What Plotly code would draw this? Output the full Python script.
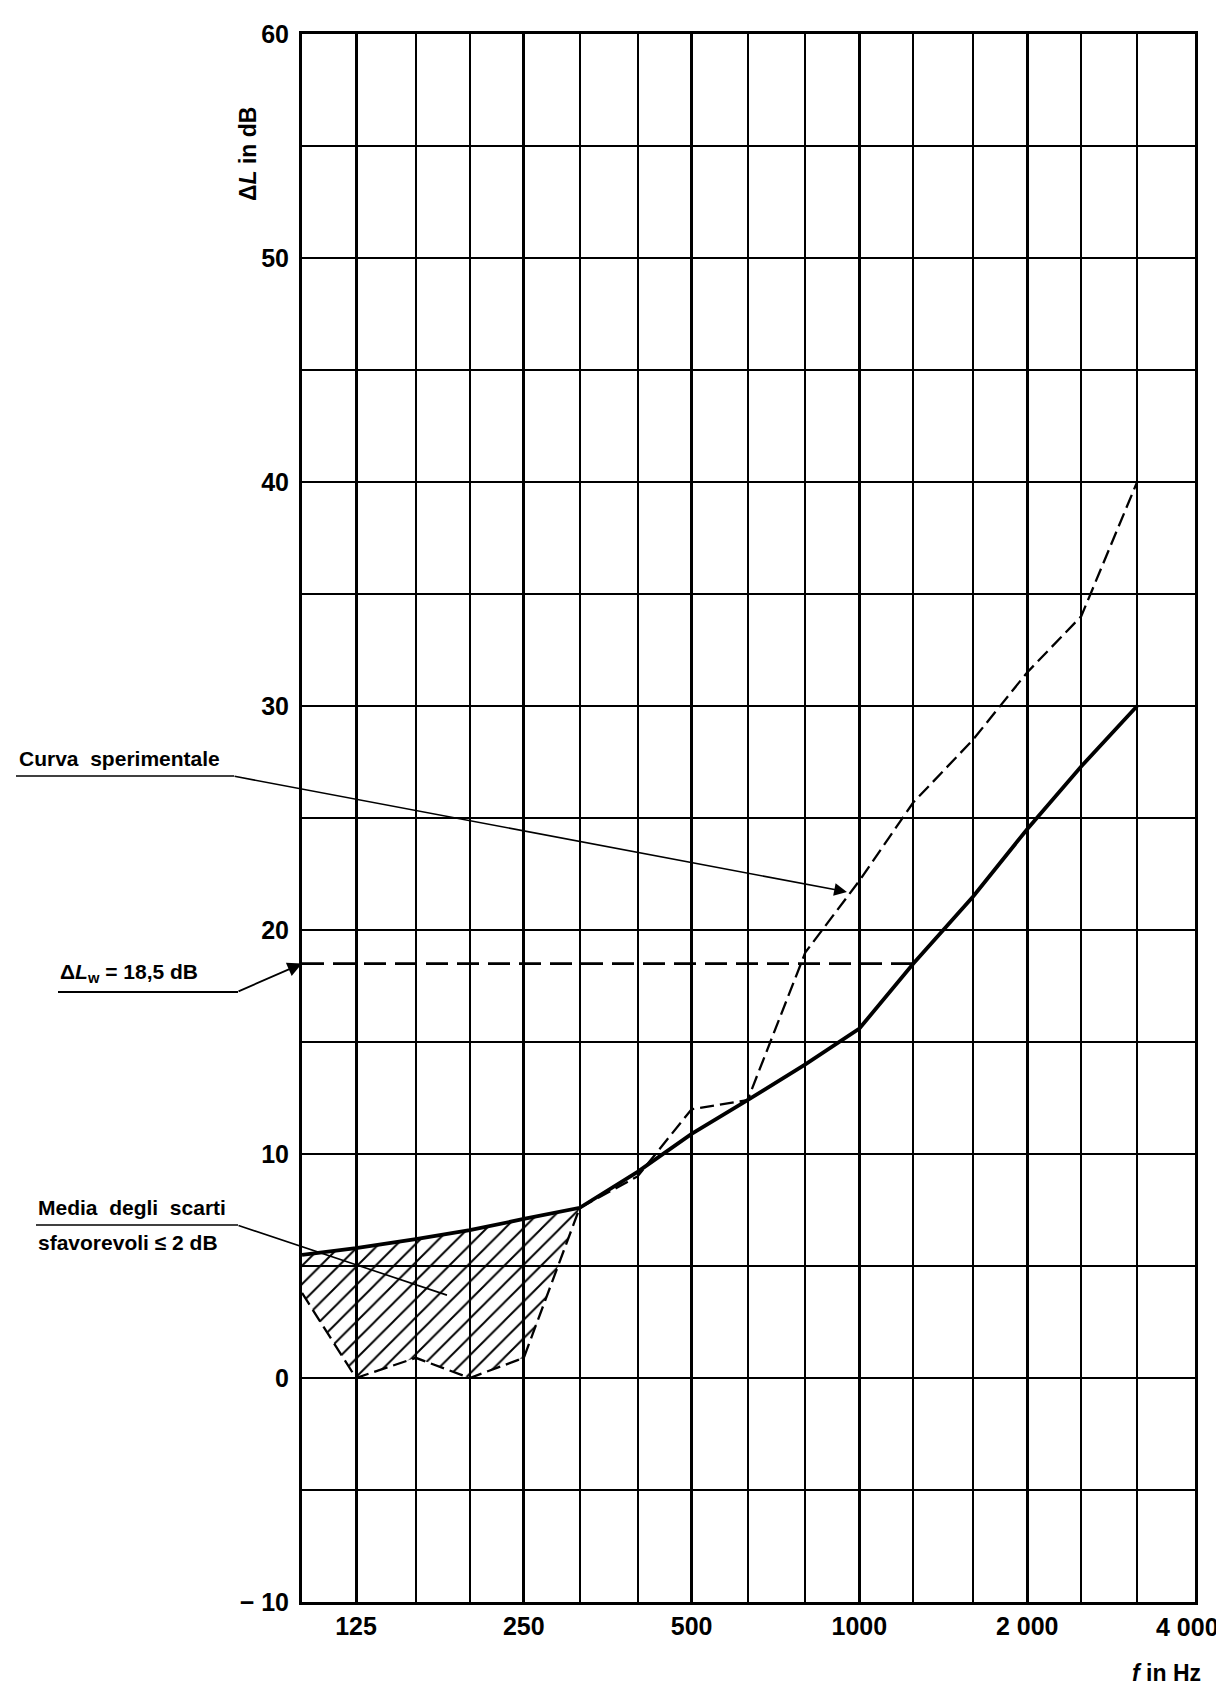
import math
import plotly.graph_objects as go

# ---------------- data ----------------
freqs = [100, 125, 160, 200, 250, 315, 400, 500, 630, 800, 1000, 1250, 1600, 2000, 2500, 3150]
reference_curve = [5.5, 5.8, 6.2, 6.6, 7.1, 7.6, 9.2, 10.9, 12.4, 14.0, 15.6, 18.5, 21.5, 24.5, 27.3, 30.0]
experimental_curve = [3.8, 0.0, 0.9, 0.0, 0.9, 7.6, 9.0, 12.0, 12.4, 19.0, 22.2, 25.7, 28.5, 31.5, 34.0, 40.0]
dLw_value = 18.5
dLw_freqs = [100, 1250]
hatch_n = 6  # hatched area between the curves from 100 to 315 Hz

grid_freqs = [100, 125, 160, 200, 250, 315, 400, 500, 630, 800, 1000, 1250, 1600, 2000, 2500, 3150, 4000]
x_tickvals = [125, 250, 500, 1000, 2000, 4000]
x_ticktext = ["125", "250", "500", "1000", "2 000", "4 000"]
y_tickvals = [-10, 0, 10, 20, 30, 40, 50, 60]
y_ticktext = ["\u2212 10", "0", "10", "20", "30", "40", "50", "60"]

# ---------------- layout geometry (page pixels) ----------------
W, H = 1224, 1690
OFF = 8  # default page body margin
L, R, T, B = 302, 1195, 34, 1602
PW, PH = R - L, B - T
FONT = "Liberation Sans, Arial, sans-serif"


def px(xpix):
    return (xpix - L) / PW


def py(ypix):
    return (B - ypix) / PH


def lx(xpix):  # log10 frequency at a page x pixel
    return 2 + px(xpix) * math.log10(40)


def vy(ypix):  # dB value at a page y pixel
    return -10 + py(ypix) * 70


fig = go.Figure()

# hatched region
hx = freqs[:hatch_n] + freqs[hatch_n - 1::-1]
hy = reference_curve[:hatch_n] + experimental_curve[hatch_n - 1::-1]
fig.add_trace(go.Scatter(
    x=hx, y=hy, mode="lines", fill="toself",
    line=dict(width=0, color="rgba(0,0,0,0)"),
    fillcolor="rgba(0,0,0,0)",
    fillpattern=dict(shape="/", fgcolor="black", bgcolor="rgba(0,0,0,0)",
                     size=13, solidity=0.15, fillmode="replace"),
    hoverinfo="skip", showlegend=False,
))

# weighted value line
fig.add_trace(go.Scatter(
    x=dLw_freqs, y=[dLw_value] * len(dLw_freqs), mode="lines",
    line=dict(color="black", width=2.8, dash="22px,9px"), showlegend=False,
))

# experimental curve
fig.add_trace(go.Scatter(
    x=freqs, y=experimental_curve, mode="lines",
    line=dict(color="black", width=2.3, dash="14px,6px"), showlegend=False,
))

# reference curve
fig.add_trace(go.Scatter(
    x=freqs, y=reference_curve, mode="lines",
    line=dict(color="black", width=3.8), showlegend=False,
))

tick_font = dict(family=FONT, size=25, color="black", weight="bold")
# the last label ("4 000") sits at the page edge; it is drawn as an annotation below
x_ticktext_axis = x_ticktext[:-1] + [""]
fig.update_xaxes(
    type="log", range=[math.log10(100), math.log10(4000) + 1e-4],
    tickmode="array", tickvals=x_tickvals, ticktext=x_ticktext_axis,
    showgrid=True, gridcolor="black", gridwidth=2.6,
    minor=dict(tickmode="array", tickvals=grid_freqs, showgrid=True,
               gridcolor="black", gridwidth=1.8, ticks=""),
    ticks="", showline=True, mirror=True, linecolor="black", linewidth=3,
    tickfont=tick_font, ticklabelstandoff=0, zeroline=False,
)
fig.update_yaxes(
    range=[-10, 60], tickmode="array", tickvals=y_tickvals, ticktext=y_ticktext,
    showgrid=True, gridcolor="black", gridwidth=2.4,
    minor=dict(dtick=5, tick0=0, showgrid=True, gridcolor="black", gridwidth=1.7, ticks=""),
    ticks="", showline=True, mirror=True, linecolor="black", linewidth=3,
    tickfont=tick_font, ticklabelstandoff=5, zeroline=False,
)

ann_font = dict(family=FONT, size=21, color="black", weight="bold")
title_font = dict(family=FONT, size=23, color="black", weight="bold")
annotations = [
    # last x tick label, right-aligned at the page edge
    dict(text=x_ticktext[-1], x=math.log10(x_tickvals[-1]), y=y_tickvals[0], xref="x", yref="y",
         xanchor="right", yanchor="top", xshift=W - 3 - R, yshift=-9,
         showarrow=False, font=tick_font),
    # axis titles
    dict(text="\u0394<i>L</i> in dB", xref="paper", yref="paper", x=px(248), y=py(154),
         textangle=-90, showarrow=False, font=title_font,
         xanchor="center", yanchor="middle"),
    dict(text="<i>f</i> in Hz", xref="paper", yref="paper", x=px(1166), y=py(1673),
         showarrow=False, font=title_font, xanchor="center", yanchor="middle"),
    # labels
    dict(text="Curva  sperimentale", xref="paper", yref="paper", x=px(17), y=py(772),
         xanchor="left", yanchor="bottom", showarrow=False, font=ann_font),
    dict(text="\u0394<i>L</i><sub>w</sub> = 18,5 dB", xref="paper", yref="paper", x=px(58), y=py(988),
         xanchor="left", yanchor="bottom", showarrow=False, font=ann_font),
    dict(text="Media  degli  scarti", xref="paper", yref="paper", x=px(36), y=py(1221),
         xanchor="left", yanchor="bottom", showarrow=False, font=ann_font),
    dict(text="sfavorevoli \u2264 2 dB", xref="paper", yref="paper", x=px(36), y=py(1229),
         xanchor="left", yanchor="top", showarrow=False, font=ann_font),
    # leader arrows
    dict(text="", x=math.log10(950), y=21.7, xref="x", yref="y",
         ax=lx(233), ay=vy(776), axref="x", ayref="y",
         showarrow=True, arrowhead=2, arrowsize=1.6, arrowwidth=1.6, arrowcolor="black"),
    dict(text="", x=math.log10(100), y=dLw_value, xref="x", yref="y",
         ax=lx(237), ay=vy(992), axref="x", ayref="y",
         showarrow=True, arrowhead=2, arrowsize=1.6, arrowwidth=1.8, arrowcolor="black"),
    dict(text="", x=math.log10(182), y=3.7, xref="x", yref="y",
         ax=lx(237), ay=vy(1225), axref="x", ayref="y",
         showarrow=True, arrowhead=0, arrowwidth=1.6, arrowcolor="black"),
]

shapes = [
    dict(type="line", xref="paper", yref="paper", x0=px(16), x1=px(234), y0=py(776), y1=py(776),
         line=dict(color="black", width=1.6)),
    dict(type="line", xref="paper", yref="paper", x0=px(58), x1=px(238), y0=py(992), y1=py(992),
         line=dict(color="black", width=1.8)),
    dict(type="line", xref="paper", yref="paper", x0=px(36), x1=px(238), y0=py(1225), y1=py(1225),
         line=dict(color="black", width=1.6)),
]

fig.update_layout(
    width=W - OFF, height=H - OFF,
    margin=dict(l=L - OFF, r=W - R, t=T - OFF, b=H - B, pad=0),
    paper_bgcolor="white", plot_bgcolor="white",
    showlegend=False,
    annotations=annotations, shapes=shapes,
    font=dict(family=FONT, color="black"),
)

fig.write_html("out.html")
